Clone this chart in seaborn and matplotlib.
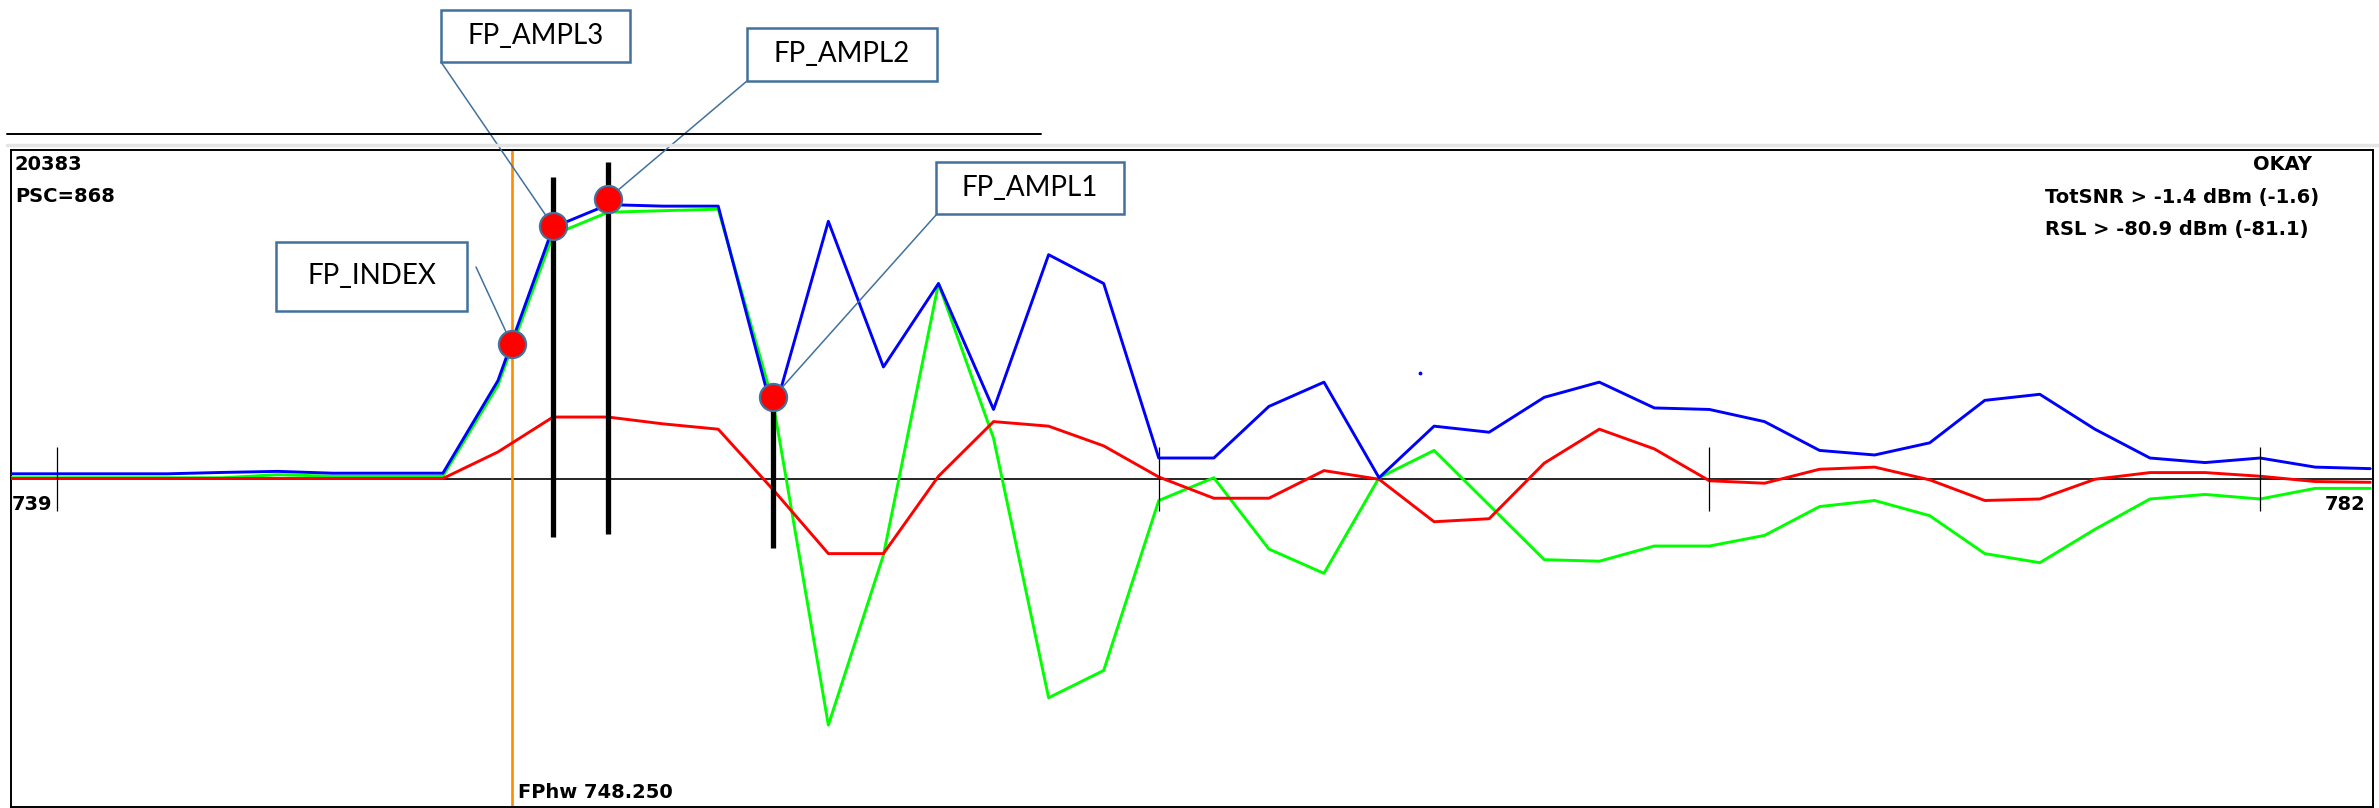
import numpy as np
import pandas as pd
import matplotlib
matplotlib.use('Agg')
import matplotlib.pyplot as plt
from matplotlib.patches import Rectangle
from matplotlib.lines import Line2D
import seaborn as sns

# ------------------------------------------------------------
# data (sample index vs amplitude)
# ------------------------------------------------------------
samples = list(range(739, 783))

blue_amp = [3.6, 3.6, 3.6, 3.6, 4.5, 5.2, 4, 4, 4, 65,
            166, 181, 180, 180, 42, 170, 74, 129, 46, 148,
            129, 14, 14, 48, 64, 1, 35, 31, 54, 64,
            47, 46, 38, 19, 16, 24, 52, 56, 33, 14,
            11, 14, 8, 7]

green_amp = [1, 1, 1, 1, 1, 3, 2, 2, 2, 62,
             161, 176, 177, 178, 50, -162, -50, 129, 27, -144,
             -126, -14, 1, -46, -62, 1, 19, -17, -53, -54,
             -44, -44, -37, -18, -14, -24, -49, -55, -33, -13,
             -10, -13, -6, -6]

red_amp = [0.5, 0.5, 0.5, 0.5, 0.5, 0.5, 0.5, 0.5, 0.5, 18,
           41, 41, 36.5, 33, -7, -49, -49, 2, 38, 35,
           22, 1.5, -12.5, -12.5, 5.7, 0, -28, -26, 10.6, 33,
           20, -1, -2.6, 6.6, 8, -0.4, -14, -13, 0, 4.4,
           4.4, 2, -1.5, -2]

# first-path markers
fp_labels = ['FP_INDEX', 'FP_AMPL3', 'FP_AMPL2', 'FP_AMPL1']
fp_pos = [748.25, 749, 750, 753]
fp_amp = [89, 167, 185, 54]

# heavy black bars at the amplitude samples
bar_pos = [749, 750, 753]
bar_top = [199, 209, 45]
bar_bottom = [-38, -36, -45]

tick_pos = [740, 760, 770, 780]
fphw = 748.25
stray_dot = (764.75, 70)

# ------------------------------------------------------------
# figure
# ------------------------------------------------------------
sns.set_style('white')
plt.rcParams['font.family'] = ['DejaVu Sans']

W, H = 2379, 808
fig = plt.figure(figsize=(W / 100, H / 100), dpi=100)
ax = fig.add_axes([10.6 / W, 1 - 807 / H, (2373 - 10.6) / W, (807 - 150) / H])

n = len(samples)
df = pd.DataFrame({
    'sample': samples * 3,
    'amp': green_amp + red_amp + blue_amp,
    'trace': ['green'] * n + ['red'] * n + ['blue'] * n,
})
sns.lineplot(data=df, x='sample', y='amp', hue='trace',
             hue_order=['green', 'red', 'blue'],
             palette={'green': '#00ff00', 'red': '#ff0000', 'blue': '#0000ff'},
             estimator=None, lw=2.1, legend=False, ax=ax, zorder=3)

ax.axhline(0, color='black', lw=1.2, zorder=2)
ax.vlines(tick_pos, -21, 21, color='black', lw=0.9, zorder=4)
ax.axvline(fphw, color='#ff8c00', lw=1.9, zorder=2)
ax.vlines(bar_pos, bar_bottom, bar_top, color='black', lw=3.8, zorder=5)
ax.scatter([stray_dot[0]], [stray_dot[1]], s=3, color='#0000ff', zorder=3)

sns.scatterplot(x=fp_pos, y=fp_amp, s=380, color='#ff0000',
                edgecolor='#41719c', linewidth=1.6, ax=ax, zorder=7)

ax.set_xlim(739.15, 782.05)
ax.set_ylim(-216, 217)
ax.set_xticks([])
ax.set_yticks([])
ax.set_xlabel('')
ax.set_ylabel('')
for s in ax.spines.values():
    s.set_color('black')
    s.set_linewidth(1.4)

# instrument readouts
kw = dict(fontsize=14, fontweight='bold', color='black', va='center')
fig.text(15 / W, 1 - 165 / H, '20383', ha='left', **kw)
fig.text(15 / W, 1 - 197 / H, 'PSC=868', ha='left', **kw)
fig.text(2312 / W, 1 - 165 / H, 'OKAY', ha='right', **kw)
fig.text(2045 / W, 1 - 198 / H, 'TotSNR > -1.4 dBm (-1.6)', ha='left', **kw)
fig.text(2045 / W, 1 - 230 / H, 'RSL > -80.9 dBm (-81.1)', ha='left', **kw)
fig.text(12 / W, 1 - 505 / H, '739', ha='left', **kw)
fig.text(2366 / W, 1 - 505 / H, '782', ha='right', **kw)
fig.text(518 / W, 1 - 793 / H, 'FPhw 748.250', ha='left', **kw)

# window chrome above the plot
fig.add_artist(Line2D([7 / W, 1041 / W], [1 - 134 / H] * 2,
                      transform=fig.transFigure, color='black', lw=1.4))
fig.add_artist(Line2D([7 / W, 1.0], [1 - 145 / H] * 2,
                      transform=fig.transFigure, color='#e4e4e4', lw=2.5))

# callout boxes: (x0, y0, x1, y1) in pixels, leader start in pixels
boxes = {
    'FP_INDEX': ((276, 242, 467, 311), (476, 267)),
    'FP_AMPL3': ((441, 10, 630, 62), (441, 62)),
    'FP_AMPL2': ((747, 28, 937, 81), (747, 81)),
    'FP_AMPL1': ((936, 162, 1124, 214), (936, 215)),
}
edge = '#41719c'
for lab, x, y in zip(fp_labels, fp_pos, fp_amp):
    (x0, y0, x1, y1), (lx, ly) = boxes[lab]
    fig.add_artist(Rectangle((x0 / W, 1 - y1 / H), (x1 - x0) / W, (y1 - y0) / H,
                             transform=fig.transFigure, facecolor='white',
                             edgecolor=edge, lw=1.8))
    fig.text((x0 + x1) / 2 / W, 1 - (y0 + y1) / 2 / H, lab, ha='center',
             va='center', fontsize=20, family=['Lato', 'DejaVu Sans'], color='black')
    ax.annotate('', xy=(x, y), xycoords='data',
                xytext=(lx / W, 1 - ly / H), textcoords='figure fraction',
                arrowprops=dict(arrowstyle='-', color=edge, lw=1.1,
                                shrinkA=0, shrinkB=0),
                annotation_clip=False, zorder=6)

fig.savefig('out.png', dpi=100)
